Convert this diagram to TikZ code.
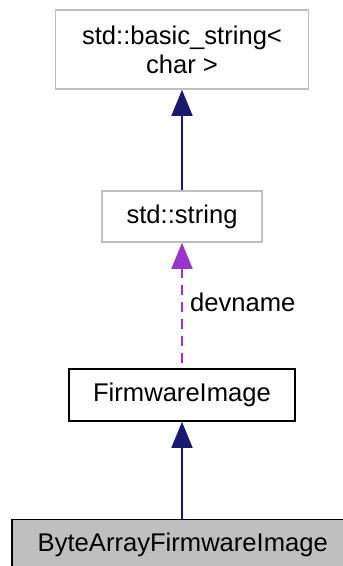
\documentclass[tikz,border=0pt]{standalone}
\usepackage{fontspec}
\setmainfont{Liberation Sans}
\usetikzlibrary{arrows.meta}
\definecolor{edgeblue}{HTML}{191970}
\definecolor{edgepurple}{HTML}{9A32CD}
\definecolor{boxgray}{HTML}{BFBFBF}
\tikzset{
  cls/.style={draw, line width=1.6pt, inner sep=0pt, align=center,
    font=\fontsize{25.6}{29}\selectfont},
  extcls/.style={cls, draw=boxgray},
  curcls/.style={cls, draw=black, fill=boxgray},
  defcls/.style={cls, draw=black},
  inherit/.style={draw=edgeblue, line width=1.6pt,
    {Triangle[length=26pt,width=21pt]}-},
  usage/.style={draw=edgepurple, line width=1.6pt, dash pattern=on 10pt off 7pt,
    {Triangle[length=26pt,width=21pt]}-},
}
\begin{document}
\begin{tikzpicture}[x=1pt,y=-1pt]
  \useasboundingbox (0,0) rectangle (343,566);
  \clip (0,0) rectangle (343,566);
  \node[extcls, minimum width=253pt, minimum height=79pt] (basic) at (182,49.5)
    {std::basic\_string<\\char >};
  \node[extcls, minimum width=160pt, minimum height=51pt] (str) at (182,216.5)
    {std::string};
  \node[defcls, minimum width=226pt, minimum height=52pt] (fw) at (182,395)
    {FirmwareImage};
  % the derived class box runs past the right edge of the page
  \node[curcls, minimum width=350pt, minimum height=51pt, anchor=west] (bafw) at (11,545)
    {\hspace*{-8pt}ByteArrayFirmwareImage};
  \draw[inherit] (basic.south) -- (str.north);
  \draw[usage] (str.south) -- node[right, xshift=4pt, yshift=3pt, font=\fontsize{25.6}{29}\selectfont] (lbl) {devname} (fw.north);
  \draw[inherit] (fw.south) -- (fw.south |- bafw.north);
\end{tikzpicture}
\end{document}
